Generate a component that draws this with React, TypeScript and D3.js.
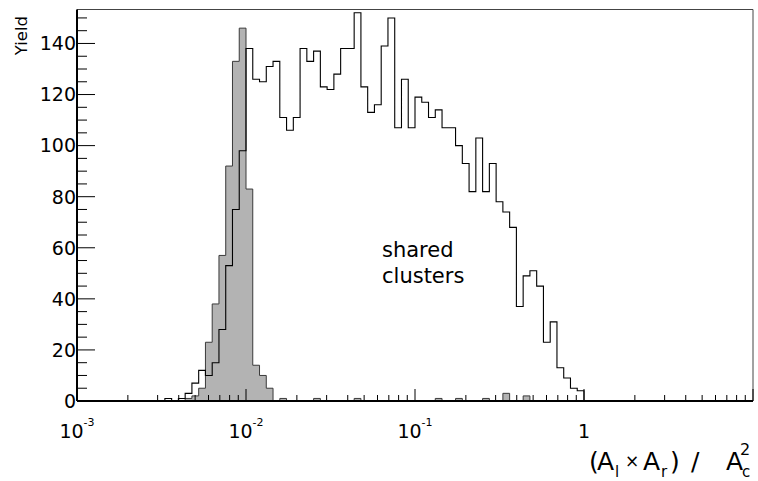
import * as d3 from "d3";

// 100 log-spaced bins from 1e-3 to 10 (25 per decade)
const nBins = 100;
const xMin = 1e-3;
const xMax = 10;

// "shared clusters" (open histogram), counts per bin
const sharedCounts = [
  0, 0, 0, 0, 0, 0, 0, 0, 0, 0,
  0, 0, 0, 1, 0, 1, 3, 7, 12, 10,
  15, 28, 53, 75, 98, 138, 126, 125, 131, 133,
  111, 106, 111, 138, 133, 137, 123, 122, 128, 138,
  138, 152, 123, 113, 116, 139, 150, 107, 126, 107,
  119, 117, 111, 114, 107, 107, 100, 93, 82, 103,
  82, 93, 78, 74, 68, 37, 49, 51, 45, 23,
  31, 13, 9, 5, 4, 0, 0, 0, 0, 0,
  0, 0, 0, 0, 0, 0, 0, 0, 0, 0,
  0, 0, 0, 0, 0, 0, 0, 0, 0, 0,
];

// single clusters (grey filled histogram)
const singleCounts = [
  0, 0, 0, 0, 0, 0, 0, 0, 0, 0,
  0, 0, 0, 0, 0, 0, 1, 2, 5, 23,
  38, 57, 92, 133, 146, 83, 14, 10, 5, 0,
  1, 0, 0, 0, 0, 1, 0, 0, 0, 0,
  0, 1, 0, 0, 0, 0, 0, 0, 0, 0,
  0, 0, 0, 1, 0, 0, 1, 0, 0, 0,
  1, 0, 0, 3, 0, 0, 2, 0, 0, 0,
  0, 0, 0, 0, 0, 0, 0, 0, 0, 0,
  0, 0, 0, 0, 0, 0, 0, 0, 0, 0,
  0, 0, 0, 0, 0, 0, 0, 0, 0, 0,
];

const xMajor = [1e-3, 1e-2, 1e-1, 1, 10];
const xLabels = [
  { v: 1e-3, base: "10", exp: "-3" },
  { v: 1e-2, base: "10", exp: "-2" },
  { v: 1e-1, base: "10", exp: "-1" },
  { v: 1, base: "1", exp: "" },
];
const yMajor = [0, 20, 40, 60, 80, 100, 120, 140];
const yMinorStep = 5;
const yMax = 153.3;

const FONT = "'DejaVu Sans', 'Liberation Sans', Arial, sans-serif";

const App = () => {
  const width = 758;
  const height = 481;
  const left = 77;
  const right = 753;
  const top = 9.5;
  const bottom = 401;

  const x = d3.scaleLog().domain([xMin, xMax]).range([left, right]);
  const y = d3.scaleLinear().domain([0, yMax]).range([bottom, top]);

  const lx = Math.log10(xMin);
  const step = (Math.log10(xMax) - lx) / nBins;
  const edges = d3.range(nBins + 1).map((k) => 10 ** (lx + k * step));

  const stepPoints = (counts: number[]) => {
    const pts: [number, number][] = [[edges[0], 0]];
    counts.forEach((c, i) => {
      pts.push([edges[i], c]);
      pts.push([edges[i + 1], c]);
    });
    pts.push([edges[nBins], 0]);
    return pts;
  };

  const line = d3
    .line<[number, number]>()
    .x((d) => x(d[0]))
    .y((d) => y(d[1]));

  const xMinor: number[] = [];
  for (let d = 0; d < xMajor.length - 1; d++) {
    for (let m = 2; m <= 9; m++) xMinor.push(xMajor[d] * m);
  }
  const yMinor = d3.range(0, yMax, yMinorStep).filter((v) => v % 20 !== 0);

  return (
    <svg
      width={width}
      height={height}
      style={{ position: "absolute", left: 0, top: 0, background: "#fff" }}
      fontFamily={FONT}
    >
      <rect x={0} y={0} width={width} height={height} fill="#fff" />

      {/* grey histogram */}
      <path
        d={line(stepPoints(singleCounts)) || ""}
        fill="#b3b3b3"
        stroke="#3a3a3a"
        strokeWidth={1}
      />
      {/* open histogram */}
      <path
        d={line(stepPoints(sharedCounts)) || ""}
        fill="none"
        stroke="#000"
        strokeWidth={1.1}
      />

      {/* frame */}
      <line x1={left} x2={right} y1={top} y2={top} stroke="#444" strokeWidth={1} />
      <line x1={right} x2={right} y1={top} y2={bottom} stroke="#444" strokeWidth={1} />

      {/* x axis */}
      <line x1={left} x2={right} y1={bottom} y2={bottom} stroke="#000" strokeWidth={2} />
      {xMajor.map((v) => (
        <line key={"xM" + v} x1={x(v)} x2={x(v)} y1={bottom} y2={bottom - 12} stroke="#000" strokeWidth={1} />
      ))}
      {xMinor.map((v) => (
        <line key={"xm" + v} x1={x(v)} x2={x(v)} y1={bottom} y2={bottom - 6} stroke="#000" strokeWidth={1} />
      ))}
      {xLabels.map((d) => (
        <text key={"xl" + d.v} x={x(d.v)} y={438} textAnchor="middle" fontSize={19}>
          {d.base}
          {d.exp && (
            <tspan fontSize={11} dy={-12}>
              {d.exp}
            </tspan>
          )}
        </text>
      ))}

      {/* y axis */}
      <line x1={left} x2={left} y1={top} y2={bottom} stroke="#000" strokeWidth={2} />
      {yMajor.map((v) => (
        <line key={"yM" + v} x1={left} x2={left + 18} y1={y(v)} y2={y(v)} stroke="#000" strokeWidth={1} />
      ))}
      {yMinor.map((v) => (
        <line key={"ym" + v} x1={left} x2={left + 10} y1={y(v)} y2={y(v)} stroke="#000" strokeWidth={1} />
      ))}
      {yMajor.map((v) => (
        <text key={"yl" + v} x={left - 1} y={y(v)} dy="0.36em" textAnchor="end" fontSize={19}>
          {v}
        </text>
      ))}

      {/* axis titles */}
      <text transform="translate(27,16) rotate(-90)" textAnchor="end" fontSize={16.5}>
        Yield
      </text>
      <g fontSize={25}>
        <text x={589} y={470}>(</text>
        <text x={597} y={470}>A</text>
        <text x={615} y={477} fontSize={15}>l</text>
        <text x={625} y={467} fontSize={17}>×</text>
        <text x={643} y={470}>A</text>
        <text x={661} y={477} fontSize={15}>r</text>
        <text x={670} y={470}>)</text>
        <text x={691} y={470}>/</text>
        <text x={726} y={470}>A</text>
        <text x={740} y={455} fontSize={16}>2</text>
        <text x={742} y={477} fontSize={15}>c</text>
      </g>

      {/* annotation */}
      <text x={382} y={257} fontSize={21}>
        shared
      </text>
      <text x={382} y={283} fontSize={21}>
        clusters
      </text>
    </svg>
  );
};

export default App;
